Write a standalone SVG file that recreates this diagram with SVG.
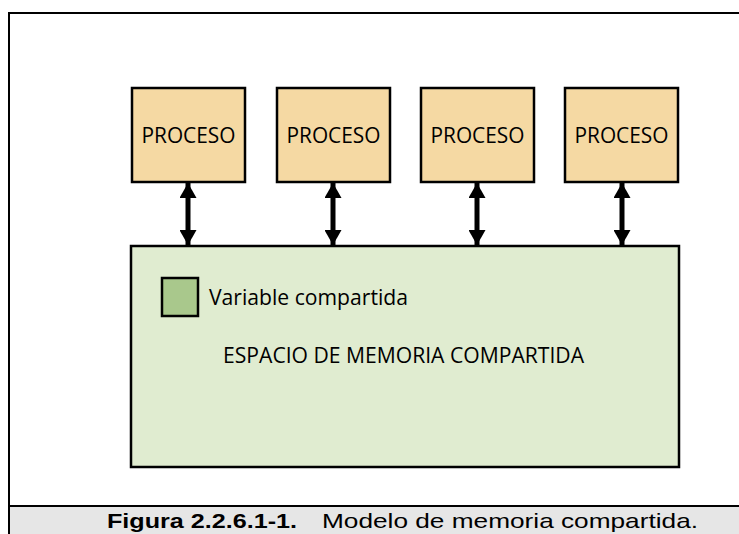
<svg xmlns="http://www.w3.org/2000/svg" width="739" height="534" viewBox="0 0 739 534">
<style>
.proc{fill:#f5d9a3;stroke:#000;stroke-width:2.5}
.ptxt{font-family:"Open Sans","Noto Sans",sans-serif;font-size:21px;fill:#000;text-anchor:middle}
.mem{fill:#e0ecd0;stroke:#000;stroke-width:2.5}
.lbl{font-family:"Open Sans","Noto Sans",sans-serif;font-size:21px;fill:#000}
.conn{stroke:#000;stroke-width:5;fill:none}
.cap{font-family:"Liberation Sans Narrow","Liberation Sans",Arial,sans-serif;font-size:21px;fill:#000}
</style>
<defs>
<marker id="ah" viewBox="0 0 15 17" refX="15" refY="8.5" markerWidth="3" markerHeight="3.4" orient="auto-start-reverse" markerUnits="strokeWidth">
<path d="M0,0 L15,8.5 L0,17 z" fill="#000"/>
</marker>
</defs>
<rect x="0" y="0" width="739" height="534" fill="#fff"/>
<rect id="frame" x="9" y="13" width="740" height="530" fill="none" stroke="#000" stroke-width="2"/>
<g id="memoria">
<rect class="mem" x="131" y="246" width="548" height="221"/>
<text class="lbl" x="223" y="363" textLength="361" lengthAdjust="spacingAndGlyphs">ESPACIO DE MEMORIA COMPARTIDA</text>
</g>
<g id="variable">
<rect x="162" y="278" width="36" height="38" fill="#a9c88c" stroke="#000" stroke-width="2.5"/>
<text class="lbl" x="209" y="305" textLength="199" lengthAdjust="spacingAndGlyphs">Variable compartida</text>
</g>
<g id="p1"><rect class="proc" x="132" y="88" width="113" height="94"/><text class="ptxt" x="188.5" y="143" textLength="94" lengthAdjust="spacingAndGlyphs">PROCESO</text></g>
<g id="p2"><rect class="proc" x="277" y="88" width="113" height="94"/><text class="ptxt" x="333.5" y="143" textLength="94" lengthAdjust="spacingAndGlyphs">PROCESO</text></g>
<g id="p3"><rect class="proc" x="421" y="88" width="113" height="94"/><text class="ptxt" x="477.5" y="143" textLength="94" lengthAdjust="spacingAndGlyphs">PROCESO</text></g>
<g id="p4"><rect class="proc" x="565" y="88" width="113" height="94"/><text class="ptxt" x="621.5" y="143" textLength="94" lengthAdjust="spacingAndGlyphs">PROCESO</text></g>
<g id="connectors">
<line class="conn" x1="188" y1="183" x2="188" y2="245" marker-start="url(#ah)" marker-end="url(#ah)"/>
<line class="conn" x1="333" y1="183" x2="333" y2="245" marker-start="url(#ah)" marker-end="url(#ah)"/>
<line class="conn" x1="477" y1="183" x2="477" y2="245" marker-start="url(#ah)" marker-end="url(#ah)"/>
<line class="conn" x1="622" y1="183" x2="622" y2="245" marker-start="url(#ah)" marker-end="url(#ah)"/>
</g>
<g id="caption">
<rect x="9" y="506" width="740" height="40" fill="#e6e6e6" stroke="#000" stroke-width="2"/>
<text class="cap" x="107" y="528"><tspan font-weight="bold" textLength="190" lengthAdjust="spacingAndGlyphs">Figura 2.2.6.1-1.</tspan></text>
<text class="cap" x="322" y="528" textLength="376" lengthAdjust="spacingAndGlyphs">Modelo de memoria compartida.</text>
</g>
</svg>
